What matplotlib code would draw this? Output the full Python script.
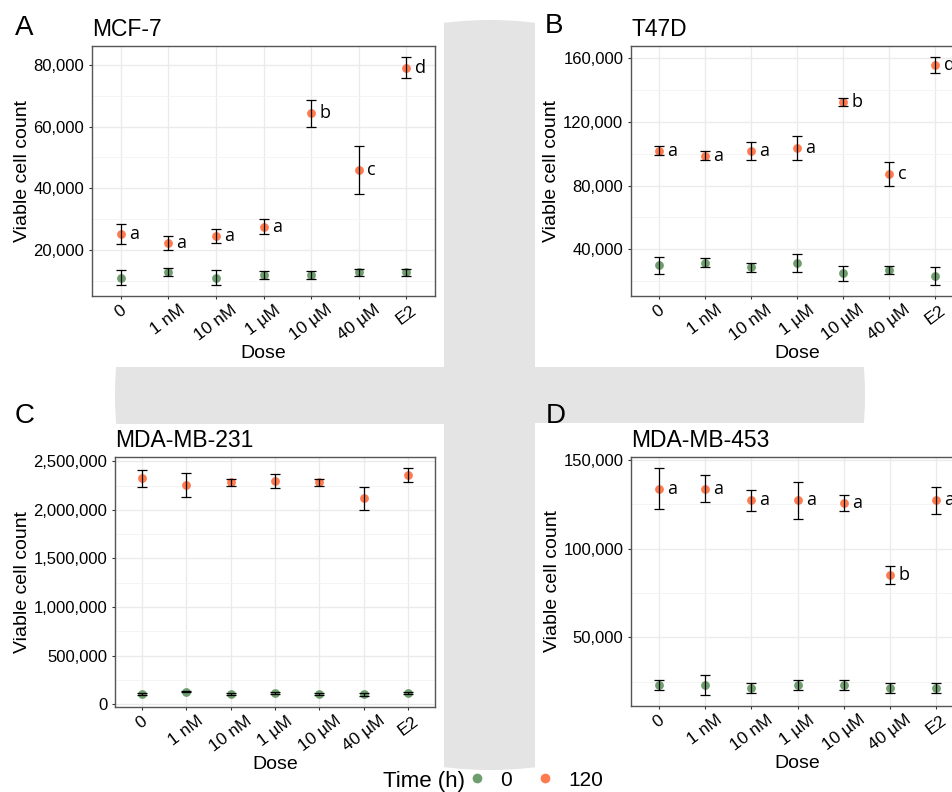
import matplotlib
matplotlib.use("Agg")
import matplotlib.pyplot as plt
from matplotlib.ticker import FuncFormatter, MultipleLocator
from matplotlib.lines import Line2D
from matplotlib.patches import Circle, Rectangle

plt.rcParams["font.family"] = ["Liberation Sans", "DejaVu Sans"]

doses = ["0", "1 nM", "10 nM", "1 µM", "10 µM", "40 µM", "E2"]

# MCF-7
mcf7_0h_mean = [11000, 12700, 11000, 11900, 11900, 12700, 12700]
mcf7_0h_sd = [2300, 1300, 2300, 1300, 1300, 1200, 1200]
mcf7_120h_mean = [25100, 22200, 24500, 27500, 64300, 46000, 79100]
mcf7_120h_sd = [3300, 2200, 2200, 2400, 4300, 7800, 3400]
mcf7_letters = ["a", "a", "a", "a", "b", "c", "d"]

# T47D
t47d_0h_mean = [29900, 31600, 28700, 31600, 24900, 27000, 23400]
t47d_0h_sd = [5100, 2900, 2800, 5700, 4800, 2700, 5500]
t47d_120h_mean = [101900, 98800, 101900, 103600, 132300, 87100, 155300]
t47d_120h_sd = [3000, 2600, 5600, 7600, 2600, 7500, 5000]
t47d_letters = ["a", "a", "a", "a", "b", "c", "d"]

# MDA-MB-231
mda231_0h_mean = [106600, 127200, 106600, 113500, 106600, 99700, 113500]
mda231_0h_sd = [10000, 5000, 10000, 12000, 10000, 13000, 12000]
mda231_120h_mean = [2324600, 2255800, 2283400, 2297100, 2283400, 2121700, 2355600]
mda231_120h_sd = [90000, 120000, 38000, 70000, 38000, 118000, 72000]

# MDA-MB-453
mda453_0h_mean = [23300, 23300, 21400, 23300, 23300, 21400, 21400]
mda453_0h_sd = [2800, 5500, 2700, 2800, 2800, 2700, 2700]
mda453_120h_mean = [133800, 133800, 127100, 127100, 125600, 85200, 127100]
mda453_120h_sd = [11400, 7500, 5700, 10600, 4700, 5100, 7500]
mda453_letters = ["a", "a", "a", "a", "a", "b", "a"]

time_labels = ["0", "120"]
colors = {"0": "#6E9E6E", "120": "#FF7A4D"}

W, H = 953, 792
fig = plt.figure(figsize=(W / 100, H / 100), dpi=100)

# faint background emblem behind the panels
bg = fig.add_axes([0, 0, 1, 1], zorder=-10)
bg.set_xlim(0, W)
bg.set_ylim(H, 0)
bg.axis("off")
bg.add_patch(Circle((490, 395), 375, color="#e4e4e4", lw=0))
for (x0, y0, x1, y1) in [(6, 12, 444, 367), (535, 12, W, 367),
                         (43, 424, 444, 777), (535, 423, W, 777)]:
    bg.add_patch(Rectangle((x0, y0), x1 - x0, y1 - y0, color="white", lw=0))


def px_rect(left, top, right, bottom):
    return [left / W, 1 - bottom / H, (right - left) / W, (bottom - top) / H]


def draw_panel(rect, title, m0, s0, m120, s120, letters, step):
    ax = fig.add_axes(rect)
    x = list(range(len(doses)))
    for key, m, s in (("0", m0, s0), ("120", m120, s120)):
        ax.scatter(x, m, s=40, color=colors[key], zorder=2, linewidths=0)
        ax.errorbar(x, m, yerr=s, fmt="none", ecolor="black", elinewidth=0.9,
                    capsize=3.6, capthick=0.9, zorder=3)
    if letters:
        for i, lab in enumerate(letters):
            ax.annotate(lab, (x[i], m120[i]), xytext=(6, 0), textcoords="offset points",
                        ha="left", va="center", fontsize=13, family="Open Sans")
    lo = min(min(a - b for a, b in zip(m0, s0)), min(a - b for a, b in zip(m120, s120)))
    hi = max(max(a + b for a, b in zip(m0, s0)), max(a + b for a, b in zip(m120, s120)))
    pad = 0.05 * (hi - lo)
    ax.set_ylim(lo - pad, hi + pad)
    ax.set_xlim(-0.6, len(doses) - 0.4)
    ax.set_xticks(x)
    ax.set_xticklabels(doses, rotation=37, ha="center", va="top", fontsize=12.5)
    ax.yaxis.set_major_locator(MultipleLocator(step))
    ax.yaxis.set_minor_locator(MultipleLocator(step / 2))
    ax.yaxis.set_major_formatter(FuncFormatter(lambda v, p: f"{v:,.0f}"))
    ax.tick_params(axis="y", which="major", labelsize=12, length=2.5, width=0.8,
                   color="#333333", pad=3)
    ax.tick_params(axis="x", which="major", length=2.5, width=0.8, color="#333333", pad=2)
    ax.tick_params(which="minor", length=0)
    ax.grid(which="major", color="#EBEBEB", lw=1.0)
    ax.grid(which="minor", axis="y", color="#F3F3F3", lw=0.6)
    ax.set_axisbelow(True)
    for sp in ax.spines.values():
        sp.set_color("#555555")
        sp.set_linewidth(1.0)
    ax.set_xlabel("Dose", fontsize=14, labelpad=1)
    ax.set_ylabel("Viable cell count", fontsize=14, labelpad=2)
    ax.set_title(title, loc="left", fontsize=16.5, pad=7)
    return ax


draw_panel(px_rect(92, 46, 435, 296), "MCF-7", mcf7_0h_mean, mcf7_0h_sd,
           mcf7_120h_mean, mcf7_120h_sd, mcf7_letters, 20000)
draw_panel(px_rect(631, 46, 963, 296), "T47D", t47d_0h_mean, t47d_0h_sd,
           t47d_120h_mean, t47d_120h_sd, t47d_letters, 40000)
draw_panel(px_rect(115, 457, 435, 707), "MDA-MB-231", mda231_0h_mean, mda231_0h_sd,
           mda231_120h_mean, mda231_120h_sd, None, 500000)
draw_panel(px_rect(631, 457, 964, 706), "MDA-MB-453", mda453_0h_mean, mda453_0h_sd,
           mda453_120h_mean, mda453_120h_sd, mda453_letters, 50000)

for lab, (lx, ly) in zip("ABCD", [(15, 35), (545, 33), (15, 423), (546, 423)]):
    fig.text(lx / W, 1 - ly / H, lab, fontsize=20, va="baseline", ha="left")

# shared legend for time point
fig.text(383 / W, 1 - 787 / H, "Time (h)", fontsize=16, va="baseline", ha="left")
handles = [Line2D([], [], marker="o", ls="", color=colors[t], ms=7, mew=0) for t in time_labels]
fig.legend(handles, time_labels, ncol=2, loc="center left",
           bbox_to_anchor=(469 / W, 1 - 780 / H), frameon=False, fontsize=15,
           handlelength=0.8, handletextpad=0.7, columnspacing=1.2, borderpad=0,
           borderaxespad=0)

fig.savefig("out.png", dpi=100)
